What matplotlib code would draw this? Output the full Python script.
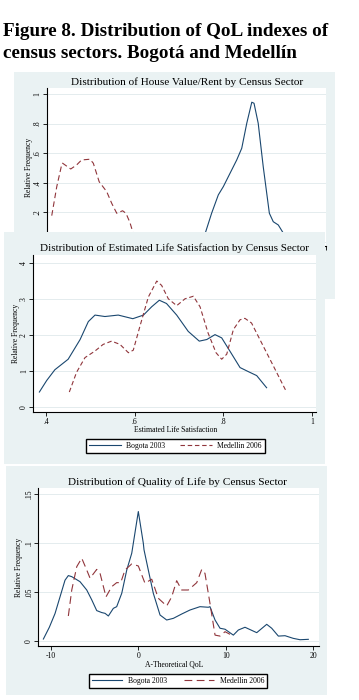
import matplotlib
matplotlib.use("Agg")
import matplotlib.pyplot as plt

plt.rcParams["font.family"] = ["Liberation Serif", "DejaVu Serif"]

W, H = 359, 700
BG = "#eaf2f3"
GRID = "#e4ecee"
NAVY = "#1a476f"
MAROON = "#90353b"

# ---- data ----
# House value / rent (x in arbitrary index units, axis is hidden)
house_bog_x = [55.6, 56.9, 59.0, 61.4, 63.2, 65.6, 68.0, 69.8, 71.6, 73.4, 74.2,
               75.7, 77.5, 79.7, 81.1, 82.9, 84.5, 85.7]
house_bog_y = [0.0, 0.07, 0.194, 0.318, 0.374, 0.464, 0.554, 0.633, 0.802, 0.944, 0.937,
               0.802, 0.509, 0.194, 0.137, 0.115, 0.066, 0.03]
house_med_x = [1.7, 3.5, 5.3, 5.6, 8.5, 10.6, 12.4, 15.4, 16.6, 18.7, 21.4, 23.2,
               25.0, 27.1, 28.3, 29.7, 31.2]
house_med_y = [0.178, 0.374, 0.525, 0.532, 0.493, 0.520, 0.554, 0.559, 0.532, 0.407,
               0.340, 0.261, 0.194, 0.211, 0.194, 0.133, 0.04]

# Estimated life satisfaction
ls_bog_x = [0.385, 0.4015, 0.420, 0.450, 0.477, 0.4955, 0.5106, 0.533, 0.563, 0.596,
            0.620, 0.6386, 0.6558, 0.672, 0.695, 0.721, 0.746, 0.763, 0.7815, 0.7966,
            0.815, 0.838, 0.857, 0.8756, 0.898]
ls_bog_y = [0.424, 0.742, 1.04, 1.33, 1.875, 2.37, 2.55, 2.51, 2.55, 2.45,
            2.55, 2.78, 2.96, 2.87, 2.55, 2.10, 1.83, 1.875, 2.01, 1.92,
            1.557, 1.10, 0.986, 0.878, 0.543]
ls_med_x = [0.4526, 0.469, 0.488, 0.5106, 0.529, 0.548, 0.567, 0.586, 0.597, 0.612,
            0.631, 0.650, 0.661, 0.6761, 0.695, 0.7138, 0.7326, 0.7477, 0.766, 0.7838,
            0.7966, 0.808, 0.823, 0.838, 0.849, 0.864, 0.8905, 0.913, 0.943]
ls_med_y = [0.424, 0.97, 1.375, 1.557, 1.74, 1.83, 1.74, 1.51, 1.58, 2.24,
            3.05, 3.49, 3.37, 3.0, 2.81, 3.0, 3.07, 2.78, 2.05, 1.51,
            1.33, 1.47, 2.15, 2.42, 2.46, 2.33, 1.69, 1.15, 0.424]

# A-theoretical QoL
qol_bog_x = [-10.84, -10.16, -9.51, -8.94, -8.37, -7.99, -7.60, -6.66, -5.89, -5.32,
             -4.75, -4.18, -3.80, -3.42, -2.85, -2.47, -1.89, -1.32, -0.75, -0.57,
             0.0, 0.57, 0.65, 1.14, 1.71, 2.48, 3.24, 4.0, 4.95, 5.90,
             7.04, 7.99, 8.18, 8.76, 9.33, 9.90, 10.85, 11.42, 12.18, 13.52,
             14.66, 15.23, 15.99, 16.75, 17.69, 18.46, 19.41]
qol_bog_y = [0.002, 0.014, 0.028, 0.045, 0.062, 0.0667, 0.0656, 0.0605, 0.052, 0.042,
             0.031, 0.029, 0.0282, 0.0255, 0.0333, 0.035, 0.0487, 0.0724, 0.0895, 0.0997,
             0.132, 0.0997, 0.093, 0.0724, 0.0487, 0.0265, 0.0214, 0.0231, 0.0275, 0.0316,
             0.035, 0.0344, 0.035, 0.0214, 0.013, 0.012, 0.006, 0.0112, 0.014, 0.0085,
             0.017, 0.013, 0.005, 0.0054, 0.0027, 0.0013, 0.0017]
qol_med_x = [-7.99, -7.60, -7.03, -6.46, -5.89, -5.51, -4.75, -4.37, -3.69, -3.04,
             -2.47, -2.01, -1.52, -0.75, 0.0, 0.76, 1.53, 2.28, 3.24, 3.81,
             4.38, 4.95, 5.71, 6.67, 7.24, 7.61, 8.18, 8.76, 9.33, 9.90, 10.47]
qol_med_y = [0.0255, 0.052, 0.0758, 0.0844, 0.0724, 0.064, 0.073, 0.069, 0.045, 0.0554,
             0.0595, 0.0595, 0.0724, 0.0786, 0.0765, 0.0589, 0.063, 0.0436, 0.0357, 0.045,
             0.0615, 0.052, 0.052, 0.0595, 0.073, 0.069, 0.0385, 0.006, 0.005, 0.0095, 0.0068]

labels = ["Bogota 2003", "Medellin 2006"]


def rect(x0, y0, x1, y1):
    # pixel box (top-left origin) -> figure fraction rect
    return [x0 / W, 1 - y1 / H, (x1 - x0) / W, (y1 - y0) / H]


def fx(x):
    return x / W


def fy(y):
    return 1 - y / H


def panel_bg(box, z):
    a = fig.add_axes(rect(*box), zorder=z)
    a.set_facecolor(BG)
    a.set_xticks([])
    a.set_yticks([])
    for s in a.spines.values():
        s.set_visible(False)
    return a


def style_axes(ax):
    ax.set_facecolor("white")
    ax.spines["top"].set_visible(False)
    ax.spines["right"].set_visible(False)
    ax.spines["left"].set_linewidth(0.8)
    ax.spines["bottom"].set_linewidth(0.8)
    ax.tick_params(length=3, width=0.6, labelsize=5.5, pad=1.5)
    ax.tick_params(axis="y", pad=0.8)
    ax.grid(axis="y", color=GRID, linewidth=0.7)
    ax.set_axisbelow(True)
    for t in ax.get_yticklabels():
        t.set_rotation(90)
        t.set_va("center")


def label(ax, x, y, s, size=5.5, rot=0):
    ax.text(fx(x), fy(y), s, fontsize=size, rotation=rot, ha="center", va="center",
            transform=fig.transFigure, clip_on=False)


fig = plt.figure(figsize=(W / 100, H / 100), dpi=100)

fig.text(fx(3), fy(31), "Figure 8. Distribution of QoL indexes of", fontsize=13.8,
         fontweight="bold", va="center", ha="left")
fig.text(fx(3), fy(53), "census sectors. Bogotá and Medellín", fontsize=13.8,
         fontweight="bold", va="center", ha="left")

# ---- panel 1: house value / rent (partly covered) ----
panel_bg((14, 72, 335, 299), 1)
ax1 = fig.add_axes(rect(47, 88, 326, 246), zorder=2)
ax1.plot(house_bog_x, house_bog_y, color=NAVY, lw=0.8)
ax1.plot(house_med_x, house_med_y, color=MAROON, lw=0.8, dashes=(5, 3))
ax1.set_xlim(0, 100)
ax1.set_ylim(-0.027, 1.04)
ax1.set_yticks([0, 0.2, 0.4, 0.6, 0.8, 1])
ax1.set_yticklabels(["0", ".2", ".4", ".6", ".8", "1"])
ax1.set_xticks([100])
ax1.set_xticklabels([""])
style_axes(ax1)
label(ax1, 187, 82, "Distribution of House Value/Rent by Census Sector", size=8.1)
label(ax1, 29, 167, "Relative Frequency", rot=90)

# ---- panel 2: estimated life satisfaction ----
panel_bg((4, 232, 325, 464), 3)
ax2 = fig.add_axes(rect(33.3, 255, 316, 412), zorder=4)
ax2.plot(ls_bog_x, ls_bog_y, color=NAVY, lw=0.8, label=labels[0])
ax2.plot(ls_med_x, ls_med_y, color=MAROON, lw=0.8, dashes=(4, 2.5), label=labels[1])
ax2.set_xlim(0.3713, 1.0095)
ax2.set_ylim(-0.128, 4.21)
ax2.set_xticks([0.4, 0.6, 0.8, 1.0])
ax2.set_xticklabels([".4", ".6", ".8", "1"])
ax2.set_yticks([0, 1, 2, 3, 4])
ax2.set_yticklabels(["0", "1", "2", "3", "4"])
style_axes(ax2)
label(ax2, 175, 247.7, "Distribution of Estimated Life Satisfaction by Census Sector", size=8.0)
label(ax2, 15.5, 333, "Relative Frequency", rot=90)
label(ax2, 175.5, 429.5, "Estimated Life Satisfaction")
ax2.legend(loc="center", bbox_to_anchor=(fx(175.3), fy(445.8)),
           bbox_transform=fig.transFigure, ncol=2, fontsize=5.5, frameon=True,
           fancybox=False, edgecolor="black", framealpha=1, handlelength=4.2,
           handletextpad=0.7, columnspacing=1.9, borderpad=0.4)

# ---- panel 3: a-theoretical QoL ----
panel_bg((6, 466, 327, 695), 5)
ax3 = fig.add_axes(rect(38.3, 488, 319, 646), zorder=6)
ax3.plot(qol_bog_x, qol_bog_y, color=NAVY, lw=0.8, label=labels[0])
ax3.plot(qol_med_x, qol_med_y, color=MAROON, lw=0.8, dashes=(7, 4), label=labels[1])
ax3.set_xlim(-11.42, 20.63)
ax3.set_ylim(-0.0051, 0.156)
ax3.set_xticks([-10, 0, 10, 20])
ax3.set_xticklabels(["-10", "0", "10", "20"])
ax3.set_yticks([0, 0.05, 0.1, 0.15])
ax3.set_yticklabels(["0", ".05", ".1", ".15"])
style_axes(ax3)
label(ax3, 177.7, 481.7, "Distribution of Quality of Life by Census Sector", size=8.1)
label(ax3, 19, 567, "Relative Frequency", rot=90)
label(ax3, 174.5, 665, "A-Theoretical QoL")
ax3.legend(loc="center", bbox_to_anchor=(fx(178), fy(680.8)),
           bbox_transform=fig.transFigure, ncol=2, fontsize=5.5, frameon=True,
           fancybox=False, edgecolor="black", framealpha=1, handlelength=4.0,
           handletextpad=0.7, columnspacing=2.2, borderpad=0.4)

fig.savefig("out.png", dpi=100, facecolor="white")
